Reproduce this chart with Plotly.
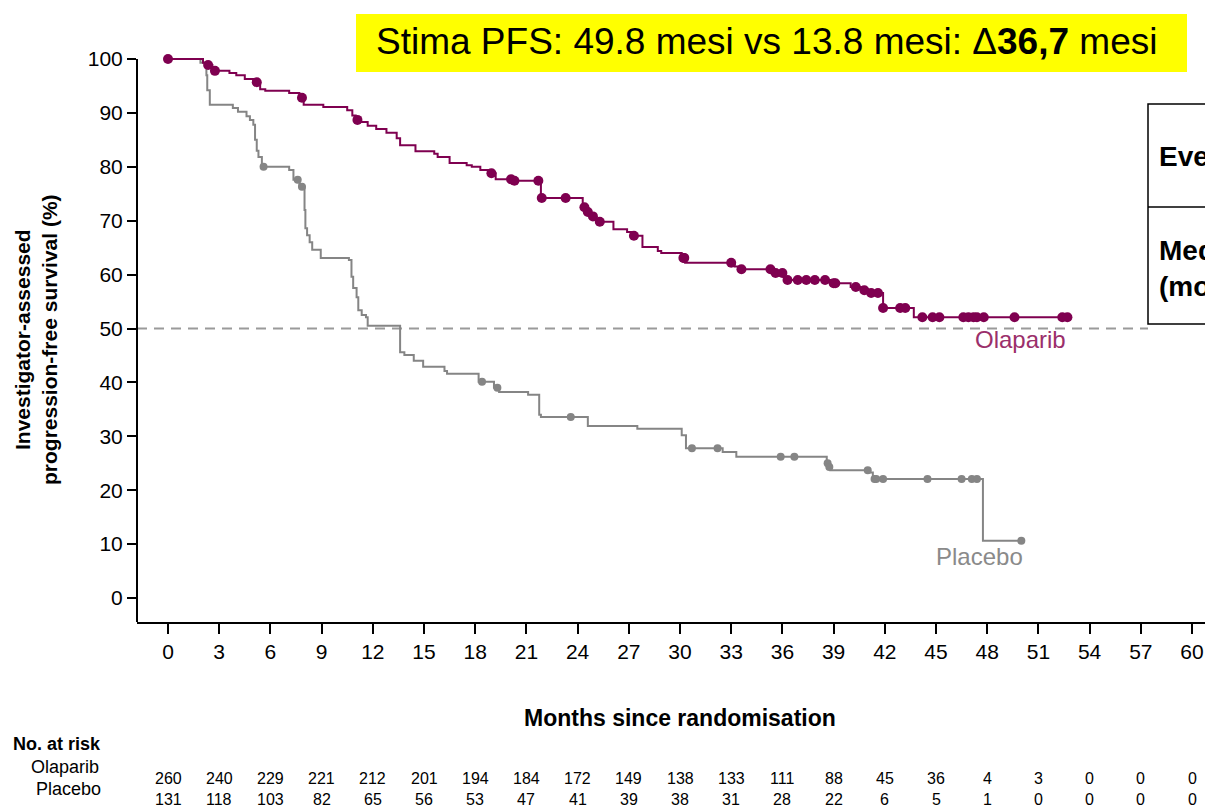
import bisect
import plotly.graph_objects as go

FONT = "Arial, Liberation Sans, sans-serif"
OLA_COLOR = "#7f0050"
OLA_LABEL = "#9b2f6b"
PLA_COLOR = "#858585"

# x-axis ticks and numbers at risk
month_ticks = list(range(0, 61, 3))
risk_olaparib = [260, 240, 229, 221, 212, 201, 194, 184, 172, 149, 138, 133, 111, 88, 45, 36, 4, 3, 0, 0, 0]
risk_placebo = [131, 118, 103, 82, 65, 56, 53, 47, 41, 39, 38, 31, 28, 22, 6, 5, 1, 0, 0, 0, 0]

# Kaplan-Meier steps: Olaparib (time in months, survival %)
ola_time = [0, 2.05, 2.3, 2.6, 3.6, 4.0, 4.5, 5.0, 5.4, 5.7, 7.1, 7.7, 7.95, 9.1, 10.5,
            10.8, 11.0, 11.3, 11.7, 12.2, 12.8, 13.4, 13.6, 14.5, 15.6, 15.8, 16.5, 17.5,
            17.8, 18.3, 18.8, 19.2, 20.2, 21.85, 24.3, 24.5, 24.7, 25.0, 25.2, 26.1, 26.9,
            27.2, 27.8, 28.7, 28.9, 30.1, 30.3, 33.2, 33.6, 35.5, 36.1, 39.0, 40.0, 40.6,
            41.2, 41.9, 43.7]
ola_surv = [100, 99.3, 98.9, 97.8, 97.4, 97.0, 96.3, 95.7, 94.4, 94.1, 93.7, 92.8, 91.5,
            91.1, 90.5, 89.5, 88.7, 88.3, 87.6, 87.0, 86.3, 85.3, 84.0, 82.9, 82.4, 81.8,
            80.7, 80.3, 80.0, 79.4, 78.8, 77.7, 77.4, 74.2, 72.5, 71.6, 70.8, 70.2, 69.8,
            68.4, 67.9, 67.2, 65.1, 64.4, 64.0, 63.1, 62.2, 61.5, 61.0, 60.3, 59.0, 58.4,
            57.7, 57.1, 56.6, 53.8, 52.1]
ola_censored = [0, 2.35, 2.75, 5.2, 7.85, 11.1, 18.95, 20.1, 20.3, 21.7, 21.9, 23.3, 24.4,
                24.6, 24.9, 25.3, 27.3, 30.2, 30.25, 33.0, 33.6, 35.3, 35.6, 36.0, 36.3,
                36.9, 37.4, 37.9, 38.5, 39.0, 39.1, 40.3, 40.8, 41.2, 41.6, 41.9, 42.9,
                43.2, 44.2, 44.8, 45.2, 46.6, 46.9, 47.2, 47.4, 47.8, 49.6, 52.4, 52.7]

# Kaplan-Meier steps: Placebo
pla_time = [0, 1.9, 2.25, 2.3, 2.45, 3.8, 4.1, 4.6, 4.8, 5.0, 5.1, 5.2, 5.3, 5.5, 7.1, 7.35,
            7.7, 8.0, 8.05, 8.15, 8.3, 8.45, 8.95, 10.6, 10.75, 10.85, 11.05, 11.15, 11.35,
            11.6, 11.7, 13.6, 13.85, 14.4, 14.95, 16.2, 16.35, 18.2, 19.1, 19.4, 21.1,
            21.75, 21.85, 24.6, 27.5, 30.1, 30.35, 32.5, 33.3, 38.6, 38.7, 38.8, 41.05,
            41.3, 47.75]
pla_surv = [100, 99.3, 97.0, 94.2, 91.5, 90.9, 90.2, 89.4, 88.7, 87.8, 85.0, 83.0, 81.8,
            80.0, 79.4, 77.6, 76.3, 72.0, 68.6, 67.3, 66.0, 64.6, 63.1, 62.7, 59.6, 57.5,
            55.8, 53.4, 52.5, 52.1, 50.5, 45.6, 45.1, 44.0, 42.9, 42.1, 41.6, 40.1, 39.0,
            38.2, 37.7, 34.0, 33.6, 31.9, 31.4, 30.2, 27.8, 27.1, 26.2, 25.0, 24.3, 23.7,
            23.3, 22.1, 10.6]
pla_censored = [5.6, 7.6, 7.85, 18.4, 19.3, 23.6, 30.7, 32.2, 35.9, 36.7, 38.65, 38.75,
                41.0, 41.4, 41.5, 41.9, 44.5, 46.5, 47.1, 47.4, 50.0]


def surv_at(times, surv, t):
    """Value of the step function at time t."""
    i = bisect.bisect_right(times, t) - 1
    return surv[max(i, 0)]


def km_traces(times, surv, censored, color, name, msize):
    end = max(censored)
    xs = list(times) + [end]
    ys = list(surv) + [surv[-1]]
    line = go.Scatter(x=xs, y=ys, mode="lines", line=dict(color=color, width=2, shape="hv"),
                      name=name, showlegend=False, hoverinfo="skip")
    marks = go.Scatter(x=censored, y=[surv_at(times, surv, t) for t in censored],
                       mode="markers", marker=dict(color=color, size=msize),
                       showlegend=False, cliponaxis=False, hoverinfo="skip")
    return [line, marks]


fig = go.Figure()
for tr in km_traces(pla_time, pla_surv, pla_censored, PLA_COLOR, "Placebo", 8):
    fig.add_trace(tr)
for tr in km_traces(ola_time, ola_surv, ola_censored, OLA_COLOR, "Olaparib", 10):
    fig.add_trace(tr)

# plot geometry (pixels)
W, H = 1205, 809
L, R, T, B = 137, 0, 40, 187
pw, ph = W - L - R, H - T - B
x0_px, px_per_month = 168, (1192 - 168) / 60
y0_px, px_per_pct = 598, (598 - 59) / 100

x_range = [(L - x0_px) / px_per_month, (W - R - x0_px) / px_per_month]
y_range = [(y0_px - (H - B)) / px_per_pct, (y0_px - T) / px_per_pct]


def px_x(px):
    return (px - L) / pw


def px_y(py):
    return (H - B - py) / ph


shapes = [
    # y-axis line from 100 down to the x axis
    dict(type="line", xref="paper", yref="y", x0=0, x1=0, y0=100, y1=y_range[0],
         line=dict(color="black", width=2)),
    # median reference line
    dict(type="line", xref="paper", yref="y", x0=0, x1=px_x(1148), y0=50, y1=50,
         line=dict(color="#9a9a9a", width=2, dash="10px,7px"), layer="below"),
    # headline box
    dict(type="rect", xref="paper", yref="paper", x0=px_x(356), x1=px_x(1187),
         y0=px_y(72), y1=px_y(14), fillcolor="#ffff00", line=dict(width=0)),
    # summary table
    dict(type="rect", xref="paper", yref="paper", x0=px_x(1148), x1=px_x(1240),
         y0=px_y(324), y1=px_y(104), line=dict(color="black", width=1.5)),
    dict(type="line", xref="paper", yref="paper", x0=px_x(1148), x1=px_x(1240),
         y0=px_y(207), y1=px_y(207), line=dict(color="black", width=1.5)),
]


def label(text, px, py, size, color="black", xanchor="center", **kw):
    return dict(text=text, x=px_x(px), y=px_y(py), xref="paper", yref="paper",
                xanchor=xanchor, yanchor="middle", showarrow=False,
                font=dict(size=size, color=color, family=FONT), **kw)


annotations = [
    label("Stima PFS: 49.8 mesi vs 13.8 mesi: \u0394<b>36,7</b> mesi", 766, 42, 37),
    label("<b>Events, n (%)</b>", 1157, 157, 28, xanchor="left"),
    label("<b>Median PFS<br>(months)</b>", 1157, 268, 28, xanchor="left", align="left"),
    label("Olaparib", 1020, 339, 24, color=OLA_LABEL),
    label("Placebo", 979, 556, 24, color="#8a8a8a"),
    label("<b>Investigator-assessed<br>progression-free survival (%)</b>", 36, 340, 21,
          textangle=-90),
    label("<b>Months since randomisation</b>", 680, 718, 23),
    label("<b>No. at risk</b>", 103, 744, 18, xanchor="right"),
    label("Olaparib", 101, 767, 18, xanchor="right"),
    label("Placebo", 103, 789, 18, xanchor="right"),
]
for m, a, b in zip(month_ticks, risk_olaparib, risk_placebo):
    annotations.append(dict(text=str(a), x=m, y=px_y(778), xref="x", yref="paper",
                            xanchor="center", yanchor="middle", showarrow=False,
                            font=dict(size=16, color="black", family=FONT)))
    annotations.append(dict(text=str(b), x=m, y=px_y(799), xref="x", yref="paper",
                            xanchor="center", yanchor="middle", showarrow=False,
                            font=dict(size=16, color="black", family=FONT)))

fig.update_layout(
    width=W, height=H,
    margin=dict(l=L, r=R, t=T, b=B, autoexpand=False),
    paper_bgcolor="white", plot_bgcolor="white",
    font=dict(family=FONT, color="black"),
    shapes=shapes, annotations=annotations, showlegend=False,
    xaxis=dict(range=x_range, tickmode="array", tickvals=month_ticks,
               ticks="outside", ticklen=10, tickwidth=2, tickcolor="black",
               showline=True, linecolor="black", linewidth=2, showgrid=False,
               zeroline=False, tickfont=dict(size=21, family=FONT, color="black")),
    yaxis=dict(range=y_range, tickmode="array", tickvals=list(range(0, 101, 10)),
               ticks="outside", ticklen=9, tickwidth=2, tickcolor="black",
               showline=False, showgrid=False, zeroline=False,
               tickfont=dict(size=21, family=FONT, color="black")),
)

fig.write_html("out.html")
